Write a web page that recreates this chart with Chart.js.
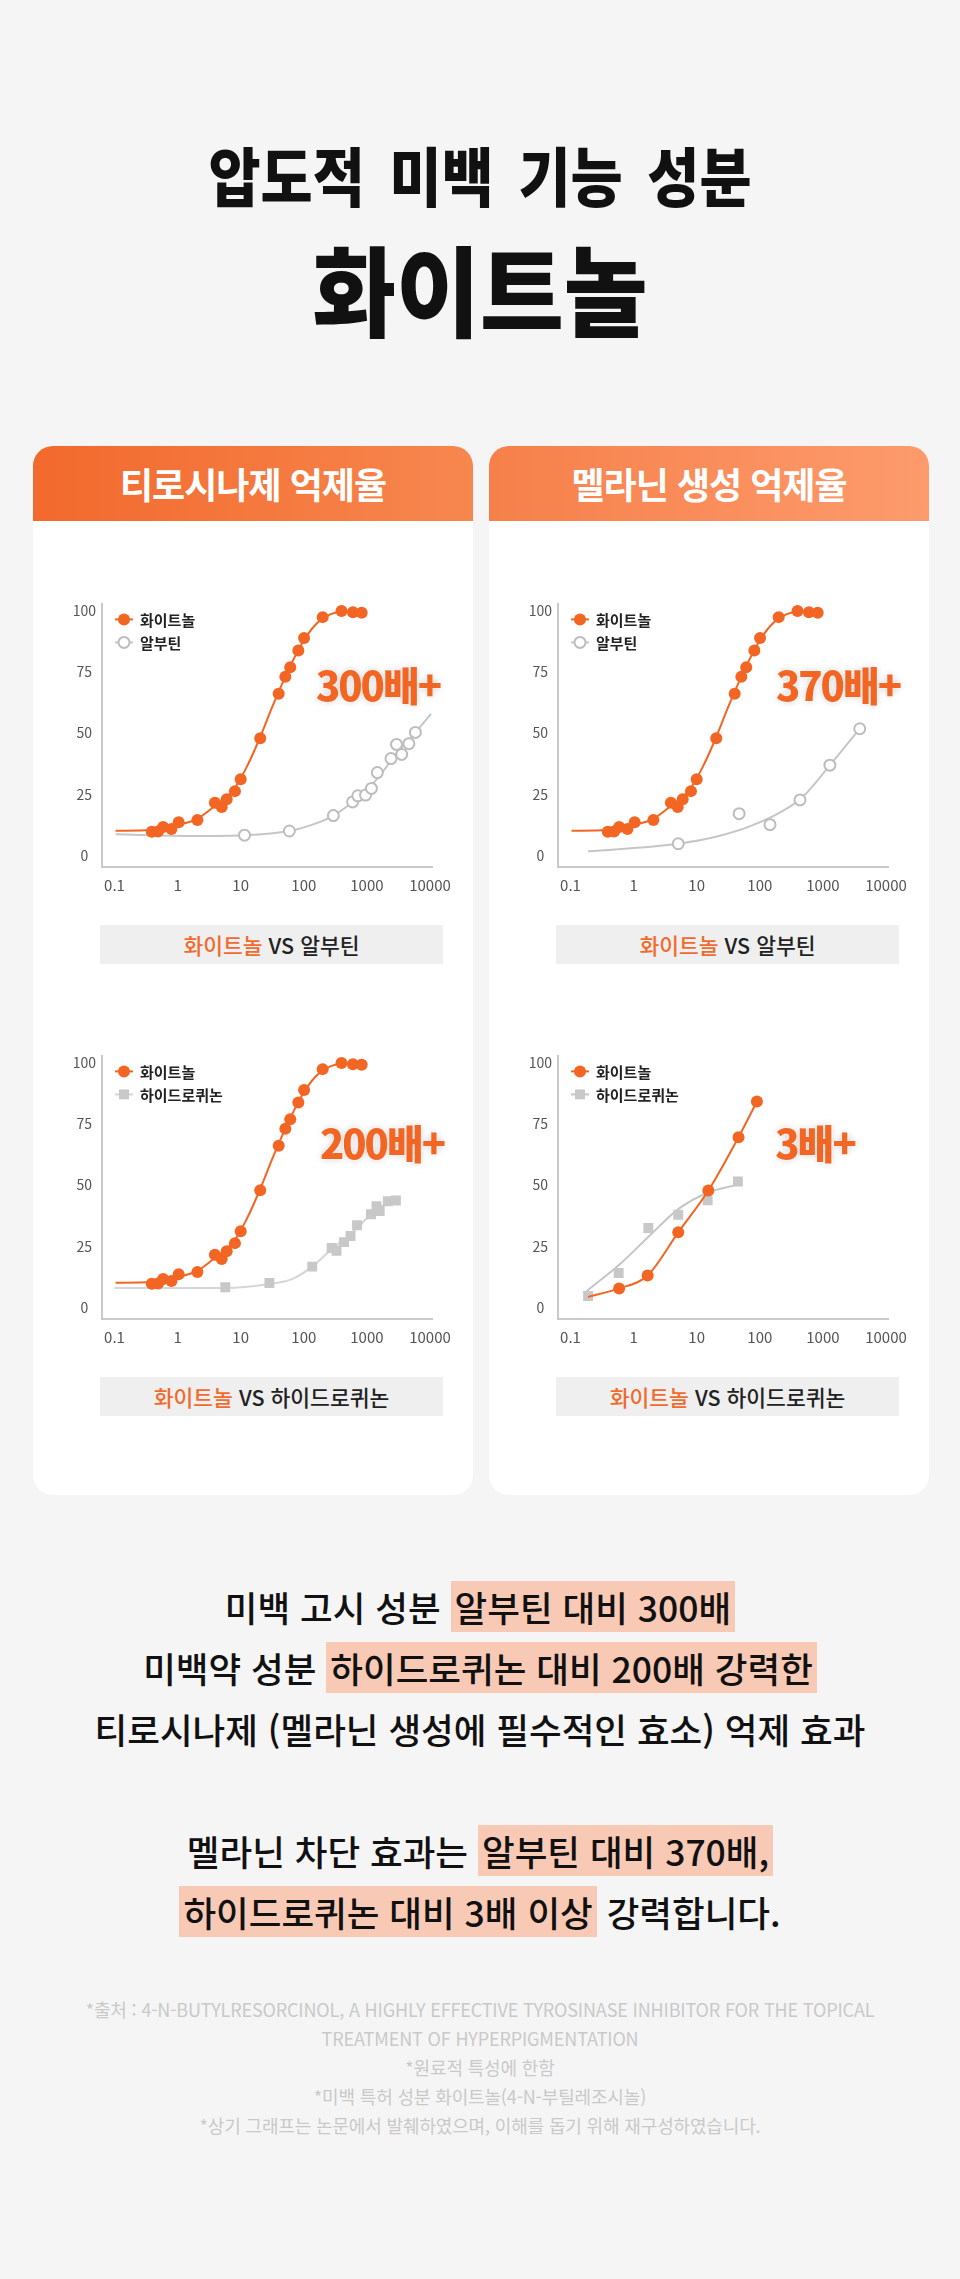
<!DOCTYPE html>
<html lang="ko">
<head>
<meta charset="utf-8">
<title>화이트놀</title>
<script src="https://cdn.jsdelivr.net/npm/chart.js@4.4.0/dist/chart.umd.min.js"></script>
<style>
	body { margin: 0; background: #f5f5f5; font-family: "Noto Sans CJK KR", "Noto Sans", sans-serif; }
	#page { position: relative; width: 960px; height: 2279px; overflow: hidden; }
	.abs { position: absolute; }
	.title1 { left: 0; width: 960px; top: 141px; text-align: center; font-size: 64px; line-height: 64px; font-weight: 900; color: #111; transform: scaleX(0.885); word-spacing: 10px; }
	.title2 { left: 0; width: 960px; top: 237px; text-align: center; font-size: 98px; line-height: 98px; font-weight: 900; color: #111; transform: scaleX(0.93); }
	.card { top: 446px; width: 440px; height: 1049px; background: #fff; border-radius: 20px; overflow: hidden; }
	.card .hd { height: 75px; line-height: 75px; text-align: center; color: #fff; font-size: 36px; font-weight: 700; letter-spacing: -1px; }
	.vs { width: 343px; height: 39px; line-height: 39px; background: #efefef; text-align: center; font-size: 21.5px; font-weight: 500; color: #222; }
	.vs span { color: #f26a2d; }
	.big { font-size: 40px; line-height: 40px; font-weight: 900; color: #f26522; letter-spacing: -2px; text-shadow: 0 0 2px #fff, 0 0 7px rgba(0,0,0,0.2); transform: translate(-50%, 0); white-space: nowrap; }
	.body { left: 0; width: 960px; top: 1576px; text-align: center; font-size: 35.5px; line-height: 61px; font-weight: 500; color: #111; }
	.body span { background: #f8cab5; padding: 0 4px; }
	.note { left: 0; width: 960px; top: 1995px; text-align: center; font-size: 18px; line-height: 29px; color: #c9c9c9; letter-spacing: -0.15px; }
	canvas { position: absolute; }
</style>
</head>
<body>
<div id="page">
	<div class="abs title1">압도적 미백 기능 성분</div>
	<div class="abs title2">화이트놀</div>

	<div class="abs card" style="left:33px;"><div class="hd" style="background:linear-gradient(90deg,#f2692c,#f7874f);">티로시나제 억제율</div></div>
	<div class="abs card" style="left:489px;"><div class="hd" style="background:linear-gradient(90deg,#f6804a,#fd9b6c);">멜라닌 생성 억제율</div></div>

	<canvas id="chart1" width="420" height="310" style="left:40px; top:590px;"></canvas>
	<canvas id="chart2" width="420" height="310" style="left:496px; top:590px;"></canvas>
	<canvas id="chart3" width="420" height="310" style="left:40px; top:1042px;"></canvas>
	<canvas id="chart4" width="420" height="310" style="left:496px; top:1042px;"></canvas>

	<div class="abs big" style="left:378px; top:664px;">300배+</div>
	<div class="abs big" style="left:838px; top:664px;">370배+</div>
	<div class="abs big" style="left:382px; top:1122px;">200배+</div>
	<div class="abs big" style="left:815px; top:1122px;">3배+</div>

	<div class="abs vs" style="left:100px; top:925px;"><span>화이트놀</span> VS 알부틴</div>
	<div class="abs vs" style="left:556px; top:925px;"><span>화이트놀</span> VS 알부틴</div>
	<div class="abs vs" style="left:100px; top:1377px;"><span>화이트놀</span> VS 하이드로퀴논</div>
	<div class="abs vs" style="left:556px; top:1377px;"><span>화이트놀</span> VS 하이드로퀴논</div>

	<div class="abs body">
		미백 고시 성분 <span>알부틴 대비 300배</span><br>
		미백약 성분 <span>하이드로퀴논 대비 200배 강력한</span><br>
		티로시나제 (멜라닌 생성에 필수적인 효소) 억제 효과<br>
		<br>
		멜라닌 차단 효과는 <span>알부틴 대비 370배,</span><br>
		<span>하이드로퀴논 대비 3배 이상</span> 강력합니다.
	</div>

	<div class="abs note">
		*출처 : 4-N-BUTYLRESORCINOL, A HIGHLY EFFECTIVE TYROSINASE INHIBITOR FOR THE TOPICAL<br>
		TREATMENT OF HYPERPIGMENTATION<br>
		*원료적 특성에 한함<br>
		*미백 특허 성분 화이트놀(4-N-부틸레조시놀)<br>
		*상기 그래프는 논문에서 발췌하였으며, 이해를 돕기 위해 재구성하였습니다.
	</div>
</div>

<script>
// -- DATA --------------------------------------//
const xTicks = [0.1, 1, 10, 100, 1000, 10000];
const yTicks = [0, 25, 50, 75, 100];

// 화이트놀, tyrosinase inhibition (same measurements in charts 1 and 3)
const whitenolX = [0.39, 0.49, 0.59, 0.80, 1.04, 2.06, 3.9, 5.0, 6.0, 8.1, 10, 20.4, 40, 51, 61, 82, 101, 199, 396, 600, 827];
const whitenolY = [9.7, 9.8, 11.6, 10.8, 13.6, 14.5, 21.6, 19.8, 23.0, 26.3, 31.2, 47.9, 66.1, 73.0, 76.9, 83.8, 88.9, 97.4, 99.9, 99.4, 99.2];
const whitenolFitX = [0.104, 0.39, 1.01, 2.06, 3.7, 7.6, 12.2, 19.7, 31.6, 51, 92, 148, 268, 430, 877];
const whitenolFitY = [10.1, 10.4, 12.5, 15.0, 19.8, 26.7, 35.7, 47.5, 60.7, 73.1, 86.3, 93.9, 98.6, 99.7, 99.4];

// 알부틴, tyrosinase inhibition
const arbutinTyrX = [11.5, 59, 294, 593, 718, 953, 1180, 1462, 2406, 2943, 3562, 4626, 5866];
const arbutinTyrY = [8.3, 10.0, 16.3, 21.9, 24.4, 24.7, 27.4, 33.9, 39.6, 45.4, 41.3, 45.7, 50.3];
const arbutinTyrFitX = [0.104, 1.83, 11.5, 59, 148, 294, 692, 1410, 2877, 5866, 10360];
const arbutinTyrFitY = [8.7, 8.0, 8.3, 10.0, 12.9, 16.3, 23.3, 30.9, 41.3, 50.3, 57.9];

// 알부틴, melanin inhibition
const arbutinMelX = [5.1, 47, 145, 434, 1291, 3838];
const arbutinMelY = [4.8, 17.1, 12.6, 22.7, 36.9, 51.8];
const arbutinMelFitX = [0.19, 5.1, 21.8, 71, 232, 472, 1291, 3838];
const arbutinMelFitY = [1.7, 4.8, 7.9, 12.0, 18.2, 23.8, 36.9, 51.8];

// 하이드로퀴논, tyrosinase inhibition
const hqTyrX = [5.7, 28.5, 136, 276, 330, 434, 550, 697, 1160, 1417, 1594, 2145, 2884];
const hqTyrY = [8.3, 10.0, 16.7, 24.3, 23.2, 26.7, 29.2, 33.6, 38.1, 41.4, 39.4, 43.4, 43.7];
const hqTyrFitX = [0.1, 5.4, 28.5, 65, 136, 270, 697, 1417, 2884];
const hqTyrFitY = [8.0, 8.0, 9.6, 11.6, 16.7, 23.6, 32.3, 40.3, 43.7];

// melanin inhibition, 화이트놀 vs 하이드로퀴논
const whitenolMelX = [0.59, 1.67, 5.1, 15.3, 46, 90];
const whitenolMelY = [7.8, 13.1, 30.7, 47.8, 69.6, 84.2];
const whitenolMelFitX = [0.19, 0.59, 1.67, 5.1, 15.3, 46, 90];
const whitenolMelFitY = [4.3, 7.8, 13.1, 30.7, 47.8, 69.6, 84.2];
const hqMelX = [0.19, 0.58, 1.71, 5.1, 14.9, 45];
const hqMelY = [4.7, 14.1, 32.5, 37.9, 43.8, 51.5];
const hqMelFitX = [0.18, 0.63, 1.82, 5.1, 14.9, 45];
const hqMelFitY = [6.7, 18.1, 29.5, 40.2, 46.9, 50.2];

// -- HELPERS ---------------//
const ORANGE = '#f26522';
const GREY = '#c6c6c6';

Chart.defaults.font.family = '"Noto Sans CJK KR", "Noto Sans", sans-serif';

function pts(xs, ys) {
	return xs.map((x, i) => ({ x: x, y: ys[i] }));
}

function fitLine(xs, ys, color) {
	return {
		data: pts(xs, ys),
		showLine: true,
		borderColor: color,
		borderWidth: 2,
		pointRadius: 0,
		cubicInterpolationMode: 'monotone',
	};
}

function whitenolDots(xs, ys) {
	return {
		label: '화이트놀',
		data: pts(xs, ys),
		pointStyle: 'circle',
		pointRadius: 6,
		pointBackgroundColor: ORANGE,
		pointBorderColor: ORANGE,
		pointBorderWidth: 0,
	};
}

function arbutinDots(xs, ys) {
	return {
		label: '알부틴',
		data: pts(xs, ys),
		pointStyle: 'circle',
		pointRadius: 5.5,
		pointBackgroundColor: '#ffffff',
		pointBorderColor: '#bdbdbd',
		pointBorderWidth: 2,
	};
}

function hqDots(xs, ys) {
	return {
		label: '하이드로퀴논',
		data: pts(xs, ys),
		pointStyle: 'rect',
		pointRadius: 7,
		pointBackgroundColor: '#c8c8c8',
		pointBorderColor: '#c8c8c8',
		pointBorderWidth: 0,
	};
}

// legend drawn inside the plot, top-left
const innerLegend = {
	id: 'innerLegend',
	afterDatasetsDraw(chart, args, opts) {
		const ctx = chart.ctx;
		const area = chart.chartArea;
		opts.items.forEach((item, i) => {
			const dots = chart.data.datasets[item.points];
			const line = chart.data.datasets[item.line];
			const y = area.top + 15 + i * 23;
			const cx = area.left + 22;
			ctx.save();
			ctx.strokeStyle = line.borderColor;
			ctx.lineWidth = 2;
			ctx.beginPath();
			ctx.moveTo(area.left + 13, y);
			ctx.lineTo(area.left + 31, y);
			ctx.stroke();
			ctx.fillStyle = dots.pointBackgroundColor;
			ctx.strokeStyle = dots.pointBorderColor;
			ctx.lineWidth = dots.pointBorderWidth;
			ctx.beginPath();
			if (dots.pointStyle === 'rect') {
				const s = dots.pointRadius * Math.SQRT1_2;
				ctx.rect(cx - s, y - s, 2 * s, 2 * s);
			} else {
				ctx.arc(cx, y, dots.pointRadius, 0, Math.PI * 2);
			}
			ctx.fill();
			if (dots.pointBorderWidth > 0) ctx.stroke();
			ctx.fillStyle = '#222';
			ctx.font = 'bold 15px "Noto Sans CJK KR", sans-serif';
			ctx.textBaseline = 'middle';
			ctx.fillText(dots.label, area.left + 38, y + 1);
			ctx.restore();
		});
	}
};

function makeOptions() {
	return {
		responsive: false,
		maintainAspectRatio: false,
		animation: false,
		events: [],
		layout: { padding: { top: 10, right: 20, left: 0, bottom: 0 } },
		scales: {
			x: {
				type: 'logarithmic',
				min: 0.0634,
				max: 11100,
				grid: { display: false, drawTicks: false },
				border: { display: true, color: '#c9c9c9', width: 2 },
				afterBuildTicks: (scale) => { scale.ticks = xTicks.map(v => ({ value: v })); },
				afterFit: (scale) => { scale.height = 33; },
				ticks: {
					autoSkip: false,
					maxRotation: 0,
					padding: 9,
					color: '#555',
					font: { size: 15 },
					callback: (v) => String(v),
				},
			},
			y: {
				min: -4.7,
				max: 102.6,
				grid: { display: false, drawTicks: false },
				border: { display: true, color: '#c9c9c9', width: 2 },
				afterBuildTicks: (scale) => { scale.ticks = yTicks.map(v => ({ value: v })); },
				afterFit: (scale) => { scale.width = 62; },
				ticks: {
					padding: 6,
					crossAlign: 'center',
					color: '#555',
					font: { size: 14 },
				},
			},
		},
		plugins: {
			legend: { display: false },
			tooltip: { enabled: false },
			innerLegend: { items: [{ points: 0, line: 1 }, { points: 2, line: 3 }] },
		},
	};
}

// -- INITIALIZATION OF CHARTS ---------------//
const myChart1 = new Chart(document.getElementById('chart1').getContext('2d'), {
	type: 'scatter',
	data: {
		datasets: [
			whitenolDots(whitenolX, whitenolY),
			fitLine(whitenolFitX, whitenolFitY, ORANGE),
			arbutinDots(arbutinTyrX, arbutinTyrY),
			fitLine(arbutinTyrFitX, arbutinTyrFitY, GREY),
		],
	},
	options: makeOptions(),
	plugins: [innerLegend],
});

const myChart2 = new Chart(document.getElementById('chart2').getContext('2d'), {
	type: 'scatter',
	data: {
		datasets: [
			whitenolDots(whitenolX, whitenolY),
			fitLine(whitenolFitX, whitenolFitY, ORANGE),
			arbutinDots(arbutinMelX, arbutinMelY),
			fitLine(arbutinMelFitX, arbutinMelFitY, GREY),
		],
	},
	options: makeOptions(),
	plugins: [innerLegend],
});

const myChart3 = new Chart(document.getElementById('chart3').getContext('2d'), {
	type: 'scatter',
	data: {
		datasets: [
			whitenolDots(whitenolX, whitenolY),
			fitLine(whitenolFitX, whitenolFitY, ORANGE),
			hqDots(hqTyrX, hqTyrY),
			fitLine(hqTyrFitX, hqTyrFitY, '#d6d6d6'),
		],
	},
	options: makeOptions(),
	plugins: [innerLegend],
});

const myChart4 = new Chart(document.getElementById('chart4').getContext('2d'), {
	type: 'scatter',
	data: {
		datasets: [
			whitenolDots(whitenolMelX, whitenolMelY),
			fitLine(whitenolMelFitX, whitenolMelFitY, ORANGE),
			hqDots(hqMelX, hqMelY),
			fitLine(hqMelFitX, hqMelFitY, GREY),
		],
	},
	options: makeOptions(),
	plugins: [innerLegend],
});
</script>
</body>
</html>
